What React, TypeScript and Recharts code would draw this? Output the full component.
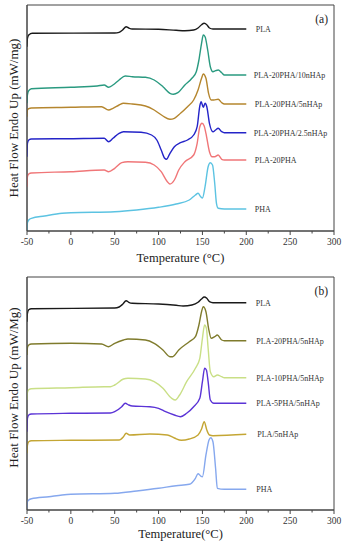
import React from 'react';
import { LineChart, Line, XAxis, YAxis, ReferenceArea, LabelList } from 'recharts';

// ---------- Panel (a) ----------
const tPLA_a = [-50, -49.5, -48, -46, -44, 50, 55, 59, 63, 66, 70, 100, 120, 130, 140, 145, 149, 152, 155, 158, 162, 170, 200];
const hPLA_a = [184.3, 192.7, 196, 197.3, 197.7, 198, 198.7, 201, 204.3, 203, 202, 201.7, 200.7, 200.3, 201, 203, 206.3, 207.7, 206.3, 203, 202, 202, 202];

const t10n_a = [-50, -49.5, -48, -45, 0, 30, 38, 43, 48, 55, 62, 70, 85, 95, 105, 113, 117, 122, 130, 138, 143, 146, 149, 151, 153, 156, 159, 162, 165, 168, 172, 175, 200];
const h10n_a = [127.7, 136, 140.3, 142.3, 143.7, 145, 146, 143.7, 146, 151, 155, 154.3, 153.7, 151, 144.3, 137.7, 136.7, 138.3, 146, 152.7, 159.3, 171, 187.7, 196, 194.3, 181, 164.3, 159.3, 160.3, 161, 158.3, 156, 156];

const t5n_a = [-50, -49.5, -48, -45, 0, 35, 43, 48, 55, 60, 70, 85, 95, 105, 113, 118, 125, 133, 140, 145, 149, 151, 154, 157, 160, 163, 168, 172, 175, 200];
const h5n_a = [114.3, 121, 122.3, 123, 123.7, 124.3, 121, 122.7, 126, 127.7, 127, 125, 121, 115, 111.7, 112.7, 117.7, 124.3, 131, 141, 152.7, 157, 152.7, 137.7, 131, 131, 131.7, 128.3, 127, 127];

const t25n_a = [-50, -49.5, -48, -45, 0, 38, 43, 48, 55, 60, 80, 92, 98, 103, 107, 109, 113, 118, 125, 133, 140, 144, 147, 148.5, 151, 153, 155, 158, 162, 165, 168, 172, 175, 200];
const h25n_a = [74.3, 87.7, 91, 92, 92.3, 92.7, 89.3, 92.7, 97.7, 99.3, 98.7, 96, 91, 81, 72.7, 71.7, 77.7, 84.3, 88.3, 91, 96, 104.3, 125, 129.3, 123.7, 127.7, 124.3, 107.7, 99.3, 101, 102.7, 99.3, 98.3, 98.3];

const t20_a = [-50, -49.5, -48, -45, 0, 38, 43, 50, 58, 65, 85, 95, 103, 110, 113, 118, 123, 130, 140, 144, 147, 149.5, 152, 154, 158, 161, 164, 168, 172, 175, 200];
const h20_a = [44.3, 54.3, 57, 58, 59.3, 61, 59.3, 62.7, 68.3, 69.3, 68.7, 66, 59.3, 49.3, 47, 51, 61, 69.3, 76, 87.7, 104.3, 107.7, 105, 97.7, 79.3, 74.3, 74.3, 76, 71.7, 71, 71];

const tPHA_a = [-50, -49.5, -48, -45, -30, -10, 0, 50, 75, 100, 120, 135, 142, 145, 148, 150, 153, 156.5, 159, 161.5, 164, 166, 168, 175, 200];
const hPHA_a = [1, 8.3, 11, 12.7, 15, 17.7, 18.3, 19.3, 21, 23.7, 27, 31, 36, 37.7, 34.3, 33, 44.3, 64.3, 68.3, 66, 47.7, 27.7, 22.7, 22, 22];

// ---------- Panel (b) ----------
const tPLA_b = [-50, -49.5, -48, -45, 50, 55, 59, 63, 66, 70, 100, 120, 128, 138, 145, 149, 152, 155, 158, 162, 200];
const hPLA_b = [188.3, 196.7, 200.3, 201.3, 202, 203, 205.7, 209.3, 207.7, 206.7, 206, 204.7, 204, 205, 207.7, 211, 213, 211.7, 208.3, 207.3, 207.3];

const t20_5_b = [-50, -49.5, -48, -45, 0, 35, 43, 50, 60, 65, 85, 95, 105, 113, 116, 123, 135, 142, 146, 149, 151, 154, 157, 160, 164, 167, 172, 175, 200];
const h20_5_b = [155, 162.3, 165, 166, 166.7, 166, 163.3, 166.7, 170, 171, 170, 166.7, 160, 153.3, 153.3, 160, 168.3, 173.3, 185, 198.3, 203.3, 198.3, 181.7, 171.7, 173.3, 175, 170, 169.3, 169.3];

const t10_5_b = [-50, -49.5, -48, -45, 0, 38, 45, 50, 60, 65, 85, 95, 105, 115, 119, 124, 132, 142, 147, 150, 152.5, 154.5, 156.5, 159, 163, 167, 172, 175, 200];
const h10_5_b = [110, 117.7, 120.3, 121.3, 122.3, 123.3, 123.3, 125, 131, 131.7, 131, 128.3, 121.7, 111.7, 110, 115, 128.3, 141.7, 151.7, 171.7, 185, 181.7, 161.7, 138.3, 133.3, 135, 133.3, 132.3, 132.3];

const t5_5_b = [-50, -49.5, -48, -45, 0, 45, 50, 58, 62, 66, 70, 90, 100, 108, 118, 125, 132, 140, 147, 150, 152.5, 154.5, 156.5, 159, 163, 200];
const h5_5_b = [78.3, 91.7, 95, 96, 96.7, 97, 98.3, 103.3, 106.7, 105, 104, 103.3, 101.7, 98.3, 95, 93.3, 96.7, 103.3, 111.7, 128.3, 141.7, 140, 128.3, 110, 106.7, 106.7];

const t0_5_b = [-50, -49.5, -48, -45, 0, 55, 60, 63, 67, 90, 110, 118, 126, 135, 145, 149, 152, 155, 158, 162, 200];
const h0_5_b = [56.7, 65, 68.3, 69.3, 69.7, 70, 73.3, 76.7, 75, 76, 75, 72, 69.7, 71, 75, 81, 88.3, 80, 75, 74.3, 75.7];

const tPHA_b = [-50, -49.5, -48, -45, -25, -10, 0, 50, 75, 100, 120, 135, 142, 145, 148, 150, 154, 157.5, 159.5, 162, 165, 167, 175, 200];
const hPHA_b = [1.7, 8.3, 10, 11.3, 13.3, 15, 15.7, 16.7, 19, 21.7, 24.3, 25.7, 31.7, 36.3, 34, 33.3, 55, 70, 72.3, 68.3, 41.7, 21.7, 20.7, 20.7];

const xTicks = [-50, -25, 0, 25, 50, 75, 100, 125, 150, 175, 200, 225, 250, 275, 300];

const FONT = "'Liberation Serif', 'Times New Roman', serif";

type Series = { name: string; t: number[]; h: number[]; color: string; dx: number };

const seriesA: Series[] = [
  { name: 'PLA', t: tPLA_a, h: hPLA_a, color: '#1a1a1a', dx: 9.5 },
  { name: 'PLA-20PHA/10nHAp', t: t10n_a, h: h10n_a, color: '#2a9a80', dx: 7.5 },
  { name: 'PLA-20PHA/5nHAp', t: t5n_a, h: h5n_a, color: '#b5862e', dx: 8.5 },
  { name: 'PLA-20PHA/2.5nHAp', t: t25n_a, h: h25n_a, color: '#2424c8', dx: 7.5 },
  { name: 'PLA-20PHA', t: t20_a, h: h20_a, color: '#f07678', dx: 8.5 },
  { name: 'PHA', t: tPHA_a, h: hPHA_a, color: '#5cc3e2', dx: 8.5 },
];

const seriesB: Series[] = [
  { name: 'PLA', t: tPLA_b, h: hPLA_b, color: '#1a1a1a', dx: 9.5 },
  { name: 'PLA-20PHA/5nHAp', t: t20_5_b, h: h20_5_b, color: '#7f7b2c', dx: 10 },
  { name: 'PLA-10PHA/5nHAp', t: t10_5_b, h: h10_5_b, color: '#c9df86', dx: 10 },
  { name: 'PLA-5PHA/5nHAp', t: t5_5_b, h: h5_5_b, color: '#5b34d6', dx: 10 },
  { name: 'PLA/5nHAp', t: t0_5_b, h: h0_5_b, color: '#c4a634', dx: 11 },
  { name: 'PHA', t: tPHA_b, h: hPHA_b, color: '#86a8ee', dx: 10 },
];

function XTick(props: any) {
  const { x, y, payload } = props;
  const v = payload.value;
  const major = v % 50 === 0;
  return (
    <g>
      <line x1={x} x2={x} y1={y} y2={y + (major ? 4 : 2.5)} stroke="#444" strokeWidth={1} />
      {major && (
        <text x={x} y={y + 14} textAnchor="middle" fontSize={9.5} fontFamily={FONT} fill="#333">
          {v}
        </text>
      )}
    </g>
  );
}

type PanelProps = {
  series: Series[];
  tag: string;
  yTitle: string;
  xTitle: string;
  top: number;
  height: number;
  marginTop: number;
  xAxisHeight: number;
  yMax: number;
  xTitleDy: number;
  yTitleShift: number;
};

function Panel(p: PanelProps) {
  return (
    <div style={{ position: 'absolute', left: 0, top: p.top, width: 348, height: p.height }}>
      <LineChart width={348} height={p.height} margin={{ top: p.marginTop, right: 14, left: 0, bottom: 0 }}>
        <XAxis
          type="number"
          dataKey="t"
          domain={[-50, 300]}
          ticks={xTicks}
          interval={0}
          height={p.xAxisHeight}
          tickSize={0}
          tickMargin={0}
          tickLine={false}
          tick={XTick}
          axisLine={{ stroke: '#444' }}
          allowDataOverflow
          label={{
            content: (lp: any) => {
              const vb = lp.viewBox || {};
              return (
                <text x={vb.x + vb.width / 2} y={vb.y + p.xTitleDy} textAnchor="middle" fontSize={12.5} fontFamily={FONT} fill="#222">
                  {p.xTitle}
                </text>
              );
            },
          }}
        />
        <YAxis
          type="number"
          domain={[0, p.yMax]}
          width={27}
          tick={false}
          tickLine={false}
          axisLine={{ stroke: '#444' }}
          allowDataOverflow
          label={{
            content: (lp: any) => {
              const vb = lp.viewBox || {};
              const cx = 13;
              const cy = vb.y + vb.height / 2 + p.yTitleShift;
              return (
                <text x={cx} y={cy} transform={`rotate(-90, ${cx}, ${cy})`} textAnchor="middle" dominantBaseline="central" fontSize={13} fontFamily={FONT} fill="#222">
                  {p.yTitle}
                </text>
              );
            },
          }}
        />
        <ReferenceArea
          x1={-50}
          x2={300}
          y1={0}
          y2={p.yMax}
          fill="none"
          stroke="#444"
          strokeWidth={1}
          ifOverflow="visible"
          label={{
            content: (lp: any) => {
              const vb = lp.viewBox || {};
              return (
                <text x={vb.x + vb.width - 6} y={vb.y + 18} textAnchor="end" fontSize={11.5} fontFamily={FONT} fill="#222">
                  {p.tag}
                </text>
              );
            },
          }}
        />
        {p.series.map((s) => {
          const data = s.t.map((t, i) => ({ t, h: s.h[i] }));
          const last = data.length - 1;
          return (
            <Line
              key={s.name}
              data={data}
              dataKey="h"
              type="monotone"
              stroke={s.color}
              strokeWidth={1.4}
              dot={false}
              activeDot={false}
              isAnimationActive={false}
            >
              <LabelList
                dataKey="h"
                content={(lp: any) => {
                  if (lp.index !== last) return null;
                  return (
                    <text x={lp.x + s.dx} y={lp.y + 3} fontSize={8} fontFamily={FONT} fill="#333">
                      {s.name}
                    </text>
                  );
                }}
              />
            </Line>
          );
        })}
      </LineChart>
    </div>
  );
}

export default function App() {
  return (
    <div style={{ position: 'absolute', left: 0, top: 0, width: 348, height: 550, background: '#fff' }}>
      <Panel
        series={seriesA}
        tag="(a)"
        yTitle="Heat Flow Endo Up (mW/mg)"
        xTitle="Temperature (°C)"
        top={0}
        height={275}
        marginTop={5}
        xAxisHeight={44}
        yMax={226}
        xTitleDy={31}
        yTitleShift={0}
      />
      <Panel
        series={seriesB}
        tag="(b)"
        yTitle="Heat Flow Endo Up (mW/Mg)"
        xTitle="Temperature(°C)"
        top={275}
        height={275}
        marginTop={2}
        xAxisHeight={40}
        yMax={233}
        xTitleDy={28}
        yTitleShift={-6}
      />
    </div>
  );
}
